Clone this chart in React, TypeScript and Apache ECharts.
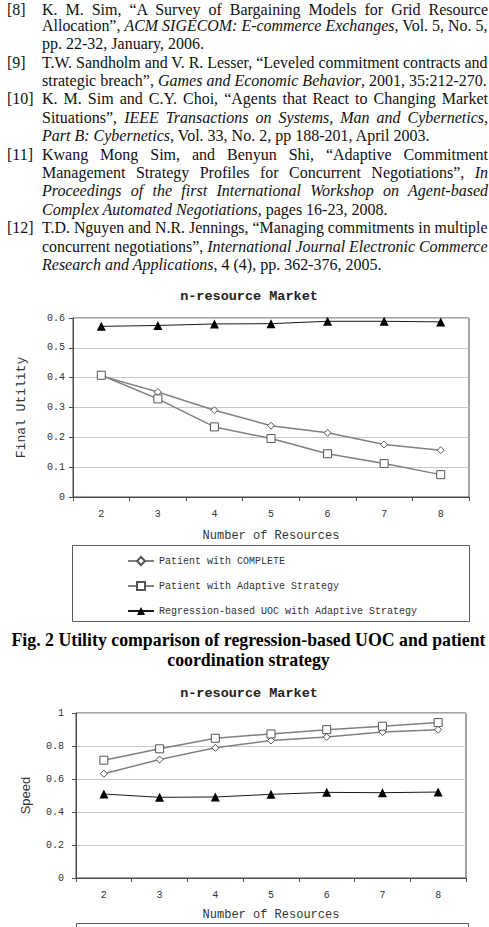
import React, { useEffect, useRef } from "react";
import * as echarts from "echarts";

// Number of resources on the x axis of both plots
const resources = ["2", "3", "4", "5", "6", "7", "8"];

// Final utility per strategy
const utilityComplete = [0.406, 0.352, 0.291, 0.239, 0.215, 0.176, 0.157];
const utilityAdaptive = [0.408, 0.329, 0.235, 0.196, 0.145, 0.112, 0.075];
const utilityRegression = [0.572, 0.575, 0.58, 0.581, 0.589, 0.589, 0.587];

// Negotiation speed per strategy
const speedComplete = [0.632, 0.718, 0.789, 0.833, 0.855, 0.885, 0.899];
const speedAdaptive = [0.714, 0.783, 0.847, 0.873, 0.899, 0.92, 0.942];
const speedRegression = [0.509, 0.489, 0.491, 0.507, 0.519, 0.517, 0.521];

const seriesNames = [
  "Patient with COMPLETE",
  "Patient with Adaptive Strategy",
  "Regression-based UOC with Adaptive Strategy",
];

const utilityAxis = { min: 0, max: 0.6, interval: 0.1 };
const speedAxis = { min: 0, max: 1, interval: 0.2 };

const chartTitle = "n-resource Market";
const xAxisName = "Number of Resources";
const captionLines = [
  "Fig. 2 Utility comparison of regression-based UOC and patient",
  "coordination strategy",
];

// Reference list: each line is a list of [text, italic] runs; `last` marks
// the closing line of an entry (not justified).
type Run = [string, boolean];
type RefLine = { runs: Run[]; last?: boolean; tag?: string };
const referenceLines: RefLine[] = [
  { tag: "[8]", runs: [["K. M. Sim, \u201CA Survey of Bargaining Models for Grid Resource", false]] },
  { runs: [["Allocation\u201D, ", false], ["ACM SIGECOM: E-commerce Exchanges", true], [", Vol. 5, No. 5,", false]] },
  { last: true, runs: [["pp. 22-32, January, 2006.", false]] },
  { tag: "[9]", runs: [["T.W. Sandholm and V. R. Lesser, \u201CLeveled commitment contracts and", false]] },
  { last: true, runs: [["strategic breach\u201D, ", false], ["Games and Economic Behavior", true], [", 2001, 35:212-270.", false]] },
  { tag: "[10]", runs: [["K. M. Sim and C.Y. Choi, \u201CAgents that React to Changing Market", false]] },
  { runs: [["Situations\u201D, ", false], ["IEEE Transactions on Systems, Man and Cybernetics,", true]] },
  { last: true, runs: [["Part B: Cybernetics", true], [", Vol. 33, No. 2, pp 188-201, April 2003.", false]] },
  { tag: "[11]", runs: [["Kwang Mong Sim, and Benyun Shi, \u201CAdaptive Commitment", false]] },
  { runs: [["Management Strategy Profiles for Concurrent Negotiations\u201D, ", false], ["In", true]] },
  { runs: [["Proceedings of the first International Workshop on Agent-based", true]] },
  { last: true, runs: [["Complex Automated Negotiations", true], [", pages 16-23, 2008.", false]] },
  { tag: "[12]", runs: [["T.D. Nguyen and N.R. Jennings, \u201CManaging commitments in multiple", false]] },
  { runs: [["concurrent negotiations\u201D, ", false], ["International Journal Electronic Commerce", true]] },
  { last: true, runs: [["Research and Applications", true], [", 4 (4), pp. 362-376, 2005.", false]] },
];

const mono = '"Liberation Mono", "DejaVu Sans Mono", monospace';
const serif = '"Liberation Serif", "Times New Roman", serif';
const sans = '"Liberation Sans", Arial, sans-serif';

// Column geometry of the reference list
const textLeft = 42;
const textWidth = 446;
const lineStep = 18.4;
const lineBox = 13;
const firstCenter = 6.9;
const topLineCenter = 9.6; // first line sits fully inside the page
const bodySize = 16;

function buildOption(): echarts.EChartsCoreOption {
  const axisColor = "#4a4a4a";
  const labelStyle = { fontFamily: mono, fontSize: 10, color: "#333" };

  const xAxisBase = (gridIndex: number, labelMargin: number, nameGap: number) => ({
    type: "category",
    gridIndex,
    data: resources,
    boundaryGap: true,
    axisLine: { show: true, lineStyle: { color: axisColor, width: 1 } },
    axisTick: { show: true, length: 4, lineStyle: { color: axisColor } },
    axisLabel: { ...labelStyle, margin: labelMargin },
    splitLine: { show: false },
    name: xAxisName,
    nameLocation: "middle",
    nameGap,
    nameTextStyle: { fontFamily: mono, fontSize: 12, color: "#333" },
  });

  const yAxisBase = (
    gridIndex: number,
    range: { min: number; max: number; interval: number },
    name: string,
    nameFont: string,
    nameSize: number,
    labelMargin: number,
    nameGap: number
  ) => ({
    type: "value",
    gridIndex,
    ...range,
    axisLine: { show: true, lineStyle: { color: axisColor, width: 1 } },
    axisTick: { show: true, length: 4, lineStyle: { color: axisColor } },
    axisLabel: { ...labelStyle, margin: labelMargin },
    splitLine: { show: true, lineStyle: { color: "#c9c9c9", width: 1 } },
    name,
    nameLocation: "middle",
    nameGap,
    nameTextStyle: { fontFamily: nameFont, fontSize: nameSize, color: "#333" },
  });

  const lineSeries = (
    name: string,
    data: number[],
    axisIndex: number,
    kind: "diamond" | "square" | "triangle"
  ) => {
    const common = {
      name,
      type: "line",
      xAxisIndex: axisIndex,
      yAxisIndex: axisIndex,
      data,
      showSymbol: true,
      silent: true,
    };
    if (kind === "triangle") {
      return {
        ...common,
        symbol: "triangle",
        symbolSize: 9,
        itemStyle: { color: "#000", borderColor: "#000", borderWidth: 0 },
        lineStyle: { color: "#1a1a1a", width: 1 },
        z: 4,
      };
    }
    return {
      ...common,
      symbol: kind === "diamond" ? "diamond" : "rect",
      symbolSize: kind === "diamond" ? 7 : 8,
      itemStyle: { color: "#fff", borderColor: "#555", borderWidth: 1 },
      lineStyle: { color: "#808080", width: 1.5 },
      z: 3,
    };
  };

  return {
    animation: false,
    backgroundColor: "transparent",
    grid: [
      { left: 73, top: 318, width: 396, height: 179, show: true, borderColor: axisColor, borderWidth: 1, backgroundColor: "transparent" },
      { left: 76, top: 713, width: 390, height: 165, show: true, borderColor: axisColor, borderWidth: 1, backgroundColor: "transparent" },
    ],
    xAxis: [xAxisBase(0, 12, 33), xAxisBase(1, 12, 31)],
    yAxis: [
      yAxisBase(0, utilityAxis, "Final Utility", mono, 13, 8, 45),
      yAxisBase(1, speedAxis, "Speed", sans, 13, 12, 44),
    ],
    legend: {
      show: true,
      orient: "vertical",
      left: 122,
      top: 551,
      itemWidth: 26,
      itemHeight: 10,
      itemGap: 15,
      selectedMode: false,
      data: seriesNames,
      textStyle: { fontFamily: mono, fontSize: 10, color: "#333", lineHeight: 10 },
    },
    series: [
      lineSeries(seriesNames[0], utilityComplete, 0, "diamond"),
      lineSeries(seriesNames[1], utilityAdaptive, 0, "square"),
      lineSeries(seriesNames[2], utilityRegression, 0, "triangle"),
      lineSeries(seriesNames[0], speedComplete, 1, "diamond"),
      lineSeries(seriesNames[1], speedAdaptive, 1, "square"),
      lineSeries(seriesNames[2], speedRegression, 1, "triangle"),
    ],
    graphic: [
      {
        type: "text",
        x: 249,
        y: 296,
        style: { text: chartTitle, textAlign: "center", textVerticalAlign: "middle", font: `bold 13.5px ${mono}`, fill: "#222" },
      },
      {
        type: "text",
        x: 249,
        y: 693,
        style: { text: chartTitle, textAlign: "center", textVerticalAlign: "middle", font: `bold 13.5px ${mono}`, fill: "#222" },
      },
      {
        type: "rect",
        shape: { x: 72.5, y: 545.5, width: 397, height: 76 },
        style: { fill: "none", stroke: "#5a5a5a", lineWidth: 1 },
      },
      {
        type: "rect",
        shape: { x: 76.5, y: 923.5, width: 392, height: 30 },
        style: { fill: "none", stroke: "#5a5a5a", lineWidth: 1 },
      },
      {
        type: "text",
        x: 248.5,
        y: 640,
        style: { text: captionLines[0], textAlign: "center", textVerticalAlign: "middle", font: `bold 17.8px ${serif}`, fill: "#000" },
      },
      {
        type: "text",
        x: 248.5,
        y: 660,
        style: { text: captionLines[1], textAlign: "center", textVerticalAlign: "middle", font: `bold 17.8px ${serif}`, fill: "#000" },
      },
    ],
  };
}

export default function App() {
  const ref = useRef<HTMLDivElement>(null);
  const lineRefs = useRef<(HTMLDivElement | null)[]>([]);

  useEffect(() => {
    if (!ref.current) return;
    const chart = echarts.init(ref.current, undefined, { renderer: "svg" });
    chart.setOption(buildOption());
    return () => chart.dispose();
  }, []);

  // Squeeze any reference line whose natural width exceeds the column.
  useEffect(() => {
    lineRefs.current.forEach((el) => {
      if (!el) return;
      const inner = el.firstElementChild as HTMLElement | null;
      if (!inner) return;
      const saved = el.style.textAlignLast;
      el.style.textAlignLast = "left";
      const w = inner.getBoundingClientRect().width;
      el.style.textAlignLast = saved;
      if (w > textWidth) {
        el.style.transformOrigin = "left center";
        el.style.transform = `scaleX(${(textWidth - 0.5) / w})`;
      }
    });
  }, []);

  const textStyle = {
    position: "absolute" as const,
    lineHeight: `${lineBox}px`,
    height: lineBox,
    fontFamily: serif,
    fontSize: bodySize,
    color: "#111",
    whiteSpace: "nowrap" as const,
  };

  return (
    <div
      style={{
        position: "absolute",
        left: 0,
        top: 0,
        width: 489,
        height: 927,
        overflow: "hidden",
        background: "#fff",
      }}
    >
      <div ref={ref} style={{ position: "absolute", left: 0, top: 0, width: 489, height: 927 }} />
      {referenceLines.map((line, i) => {
        const center = i === 0 ? topLineCenter : firstCenter + i * lineStep;
        const top = center - lineBox / 2;
        return (
          <React.Fragment key={i}>
            {line.tag && <div style={{ ...textStyle, left: 7, top }}>{line.tag}</div>}
            <div
              ref={(el) => {
                lineRefs.current[i] = el;
              }}
              style={{
                ...textStyle,
                left: textLeft,
                top,
                width: textWidth,
                textAlign: "justify",
                textAlignLast: line.last ? "left" : "justify",
              }}
            >
              <span>
                {line.runs.map(([t, it], j) =>
                  it ? <i key={j}>{t}</i> : <span key={j}>{t}</span>
                )}
              </span>
            </div>
          </React.Fragment>
        );
      })}
    </div>
  );
}
